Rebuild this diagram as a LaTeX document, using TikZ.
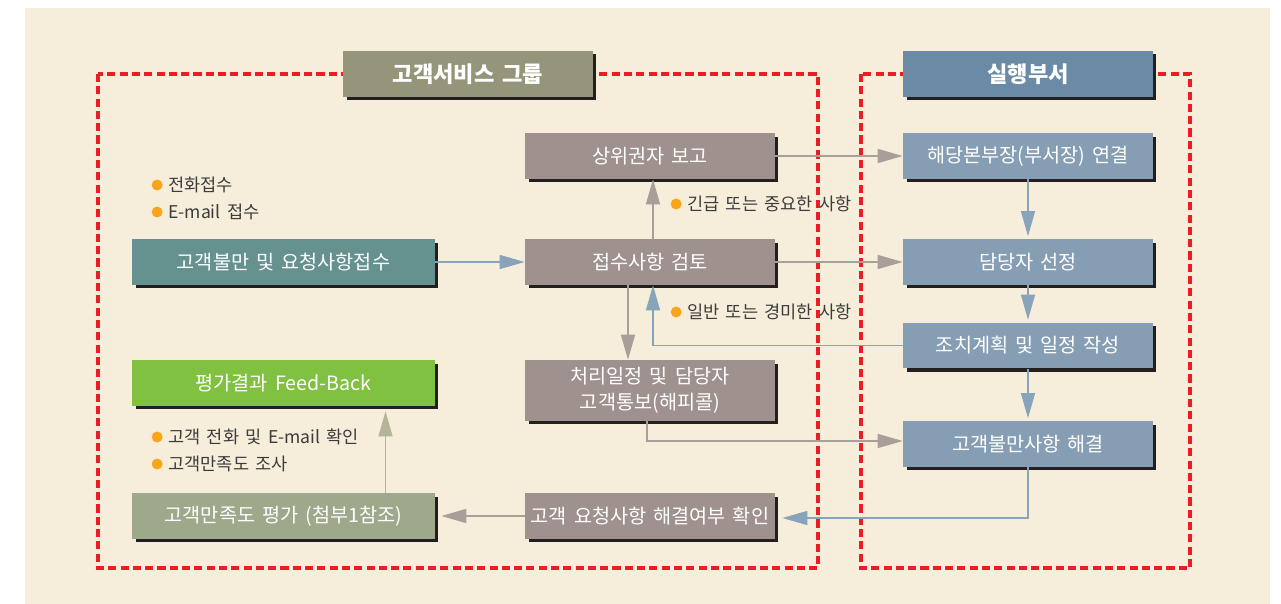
\documentclass[tikz,border=0pt]{standalone}
\usepackage{fontspec}
\setmainfont[WordSpace=1.6]{Noto Sans CJK KR}
\usetikzlibrary{positioning,calc,arrows.meta,shadows}

\definecolor{paper}{HTML}{F6EEDB}
\definecolor{frame}{HTML}{ED1C24}
\definecolor{shadowgray}{HTML}{231F20}
\definecolor{titleolive}{HTML}{95957A}
\definecolor{titleblue}{HTML}{6A8AA5}
\definecolor{boxgray}{HTML}{9F918D}
\definecolor{boxblue}{HTML}{869EB4}
\definecolor{boxteal}{HTML}{65928F}
\definecolor{boxgreen}{HTML}{80C141}
\definecolor{boxsage}{HTML}{9EA88A}
\definecolor{linegray}{HTML}{A89E9A}
\definecolor{lineblue}{HTML}{88A4BA}
\definecolor{lineolive}{HTML}{B4B598}
\definecolor{dotorange}{HTML}{F9A51B}
\definecolor{notetext}{HTML}{3C3C3C}

\begin{document}
\begin{tikzpicture}[x=0.02cm, y=-0.02cm,
% Node styles
 box/.style={rectangle, minimum width=5cm, minimum height=0.92cm, inner sep=1pt,
 text=white, align=center, font=\fontsize{11.2}{14.5}\selectfont,
 general shadow={fill=shadowgray, shadow xshift=0.07cm, shadow yshift=-0.07cm}},
 widebox/.style={box, minimum width=6.06cm},
 titlebox/.style={box, font=\fontsize{12.6}{14}\selectfont\bfseries},
 note/.style={anchor=west, inner sep=0pt, text=notetext, font=\fontsize{10}{12}\selectfont,
 label={[circle, fill=dotorange, minimum size=0.22cm, inner sep=0pt, label distance=0.1cm]left:{}}},
% Frame styles
 groupframe/.style={draw=frame, line width=2pt, dash pattern=on 4.6pt off 2.4pt},
% Edge styles
 arr/.style={draw, line width=0.8pt, -{Triangle[length=0.5cm, width=0.28cm]}},
 arrgray/.style={arr, linegray},
 arrblue/.style={arr, lineblue},
 arrolive/.style={arr, lineolive}
]
\useasboundingbox (0,0) rectangle (1281,604);
\fill[paper] (25,8) rectangle (1270,604);
% Group frames
\draw[groupframe] (98,74) rectangle (818,568);
\draw[groupframe] (861,74) rectangle (1190,568);
% Group titles
\node[titlebox, fill=titleolive] (grpTitle) at (468,74) {고객서비스 그룹};
\node[titlebox, fill=titleblue] (deptTitle) at (1028,74) {실행부서};
% Customer service group, left column
\node[widebox, fill=boxteal] (jeopsuIn) at (283.5,262) {고객불만 및 요청사항접수};
\node[widebox, fill=boxgreen] (feedback) at (283.5,383) {평가결과 Feed-Back};
\node[widebox, fill=boxsage] (manjok) at (283.5,516) {고객만족도 평가 (첨부1참조)};
% Customer service group, middle column
\node[box, fill=boxgray] (sangwi) at (650,156) {상위권자 보고};
\node[box, fill=boxgray] (jeopsu) at (650,262) {접수사항 검토};
\node[box, fill=boxgray, minimum height=1.22cm] (cheori) at (650,390.5) {처리일정 및 담당자\\고객통보(해피콜)};
\node[box, fill=boxgray] (hwagin) at (650,516) {고객 요청사항 해결여부 확인};
% Executing department
\node[box, fill=boxblue] (bonbu) at (1028,156) {해당본부장(부서장) 연결};
\node[box, fill=boxblue] (damdang) at (1028,262) {담당자 선정};
\node[box, fill=boxblue] (jochi) at (1028,345.5) {조치계획 및 일정 작성};
\node[box, fill=boxblue] (haegyeol) at (1028,444) {고객불만사항 해결};
% Notes
\node[note] (telNote) at (168,185) {전화접수};
\node[note] (mailNote) at (168,212) {E-mail 접수};
\node[note] (urgentNote) at (687,204) {긴급 또는 중요한 사항};
\node[note] (minorNote) at (687,312) {일반 또는 경미한 사항};
\node[note] (checkNote) at (168,437) {고객 전화 및 E-mail 확인};
\node[note] (surveyNote) at (168,464) {고객만족도 조사};
% Connectors
\draw[arrblue] (jeopsuIn) -- (jeopsu);
\draw[arrgray] (sangwi) -- (bonbu);
\draw[arrgray] (jeopsu) -- (damdang);
\draw[arrgray] ($(jeopsu.north)+(3,0)$) -- ($(sangwi.south)+(3,0)$);
\draw[arrgray] ($(jeopsu.south)+(-22,0)$) -- ($(cheori.north)+(-22,0)$);
\draw[arrblue] (jochi.west) -| ($(jeopsu.south)+(3,0)$);
\draw[arrgray] ($(cheori.south)+(-3,0)$) |- ($(haegyeol.west)+(0,-3)$);
\draw[arrblue, shorten >=0.14cm] (haegyeol.south) |- ($(hwagin.east)+(0,2)$);
\draw[arrgray, shorten >=0.12cm] (hwagin) -- (manjok);
\draw[arrolive, shorten >=0.1cm] ($(manjok.north)+(102,0)$) -- ($(feedback.south)+(102,0)$);
\draw[arrblue, shorten >=0.05cm] (bonbu) -- (damdang);
\draw[arrblue, shorten >=0.05cm] (damdang) -- (jochi);
\draw[arrblue, shorten >=0.05cm] (jochi) -- (haegyeol);
\end{tikzpicture}
\end{document}
